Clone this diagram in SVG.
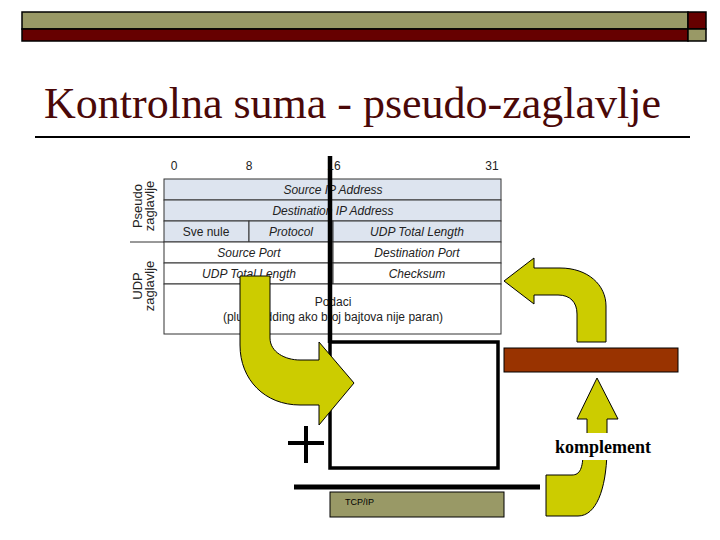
<svg xmlns="http://www.w3.org/2000/svg" width="720" height="540" viewBox="0 0 720 540">
<style>
.olive{fill:#999966;stroke:#000;stroke-width:1.5}
.maroon{fill:#660000;stroke:#000;stroke-width:1.5}
.title{font-family:"Liberation Serif","Times New Roman",serif;font-size:44px;fill:#4a0808}
.t{font-family:"Liberation Sans",Arial,sans-serif;font-size:12px;fill:#222;text-anchor:middle}
.i{font-style:italic}
.side{font-family:"Liberation Sans",Arial,sans-serif;font-size:13px;fill:#222;text-anchor:middle}
.pr{fill:#dde4ef;stroke:#333;stroke-width:1}
.ur{fill:#fff;stroke:#333;stroke-width:1}
.yel{fill:#cccc00;stroke:#000;stroke-width:1}
.komp{font-family:"Liberation Serif","Times New Roman",serif;font-size:18px;font-weight:bold;fill:#000}
</style>
<g id="header-bars">
<rect class="olive" x="22" y="12" width="666" height="17"/>
<rect class="maroon" x="22" y="29" width="666" height="12"/>
<rect class="maroon" x="688" y="12" width="18" height="17"/>
<rect class="olive" x="688" y="29" width="18" height="12"/>
</g>
<g id="title">
<text class="title" x="44" y="118">Kontrolna suma - pseudo-zaglavlje</text>
<line x1="35" y1="137" x2="690" y2="137" stroke="#000" stroke-width="2"/>
</g>
<g id="table">
<text class="t" x="174" y="170">0</text>
<text class="t" x="249" y="170">8</text>
<text class="t" x="334" y="170">16</text>
<text class="t" x="492" y="170">31</text>
<rect class="pr" x="164" y="179" width="337" height="21"/>
<rect class="pr" x="164" y="200" width="337" height="21"/>
<rect class="pr" x="164" y="221" width="85" height="21"/>
<rect class="pr" x="249" y="221" width="84" height="21"/>
<rect class="pr" x="333" y="221" width="168" height="21"/>
<rect class="ur" x="164" y="242" width="169" height="21"/>
<rect class="ur" x="333" y="242" width="168" height="21"/>
<rect class="ur" x="164" y="263" width="169" height="21"/>
<rect class="ur" x="333" y="263" width="168" height="21"/>
<rect class="ur" x="164" y="284" width="337" height="50"/>
<text class="t i" x="333" y="194">Source IP Address</text>
<text class="t i" x="333" y="215">Destination IP Address</text>
<text class="t" x="206" y="236">Sve nule</text>
<text class="t i" x="291" y="236">Protocol</text>
<text class="t i" x="417" y="236">UDP Total Length</text>
<text class="t i" x="249" y="257">Source Port</text>
<text class="t i" x="417" y="257">Destination Port</text>
<text class="t i" x="249" y="278">UDP Total Length</text>
<text class="t i" x="417" y="278">Checksum</text>
<text class="t" x="333" y="306">Podaci</text>
<text class="t" x="333" y="321">(plus padding ako broj bajtova nije paran)</text>
<line x1="130" y1="242" x2="164" y2="242" stroke="#333" stroke-width="1"/>
<text class="side" transform="translate(141.5,206) rotate(-90)">Pseudo</text>
<text class="side" transform="translate(154,206) rotate(-90)">zaglavlje</text>
<text class="side" transform="translate(141.5,286) rotate(-90)">UDP</text>
<text class="side" transform="translate(154,286) rotate(-90)">zaglavlje</text>
</g>
<g id="connectors">
<line x1="330" y1="156" x2="330" y2="343" stroke="#000" stroke-width="4.5"/>
<rect x="330" y="342" width="168" height="126" fill="none" stroke="#000" stroke-width="3.5"/>
<path class="yel" d="M240,276 L270,276 L270,338 C270,352 285,360 300,360 L319,360 L319,342 L354,383 L319,425 L319,405 L300,405 C265,405 240,380 240,345 Z"/>
<path class="yel" d="M504,281 L534,258 L534,268 L560,268 C588,268 606,285 606,306 L606,342 L577,342 L577,314 C577,302 570,295 558,295 L534,295 L534,304 Z"/>
<path class="yel" d="M597,378 L618,419 L607,419 L607,440 L587,440 L587,419 L577,419 Z"/>
<path class="yel" d="M583,452 L607,452 C606,490 596,516 578,516 L546,516 L546,475 L572,475 C580,475 583,468 583,452 Z"/>
<line x1="288" y1="443" x2="324" y2="443" stroke="#000" stroke-width="4"/>
<line x1="306" y1="426" x2="306" y2="463" stroke="#000" stroke-width="4"/>
<line x1="294" y1="487" x2="540" y2="487" stroke="#000" stroke-width="5"/>
</g>
<g id="tcpip">
<rect x="330" y="492" width="174" height="25" fill="#999966" stroke="#000" stroke-width="1"/>
<text x="345" y="505" font-family="Liberation Sans,Arial,sans-serif" font-size="9" fill="#000">TCP/IP</text>
</g>
<g id="checksum-bar">
<rect x="504" y="348" width="174" height="24" fill="#993300" stroke="#000" stroke-width="1"/>
</g>
<g id="komplement">
<rect x="548" y="433" width="110" height="27" fill="#fff"/>
<text class="komp" x="555" y="453">komplement</text>
</g>
</svg>
